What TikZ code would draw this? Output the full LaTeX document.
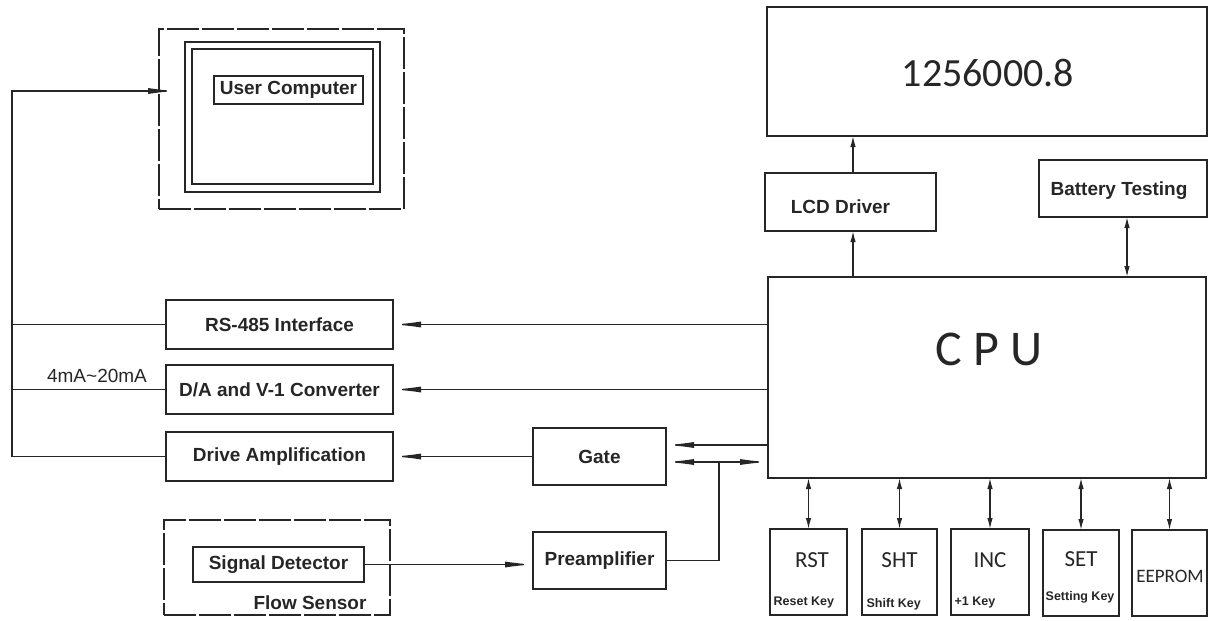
\documentclass[tikz,border=0pt]{standalone}
\usepackage{fontspec}
\setmainfont{Liberation Sans}
\newfontfamily\carl{Carlito}
\usetikzlibrary{arrows.meta}
\begin{document}
\begin{tikzpicture}[x=1pt,y=-1pt,
  line width=1.3pt, draw=black!85,
  box/.style={draw, inner sep=0pt, outer sep=0pt},
  dbox/.style={draw, inner sep=0pt, outer sep=0pt, dash pattern=on 32pt off 3pt},
  lbl/.style={inner sep=0pt, font=\fontsize{19}{21}\selectfont\bfseries, text=black!85},
  klbl/.style={inner sep=0pt, font=\carl\fontsize{23}{25}\selectfont, text=black!85},
  slbl/.style={inner sep=0pt, anchor=west, font=\fontsize{12.5}{14}\selectfont\bfseries, text=black!85},
  arr/.style={-{Latex[length=28pt,width=6pt]}},
  sarr/.style={-{Latex[length=11pt,width=5.5pt]}},
  dbl/.style={{Latex[length=11pt,width=5.5pt]}-{Latex[length=11pt,width=5.5pt]}}
]
\useasboundingbox (0,0) rectangle (1210,621);

% display and CPU side
\node[box, minimum width=440pt, minimum height=129pt] (disp) at (987,71.5) {};
\node[inner sep=0pt, font=\carl\fontsize{40}{44}\selectfont, text=black!85] (dispt) at (988,73) {1256000.8};
\node[box, minimum width=171pt, minimum height=58pt] (lcd) at (850.5,202) {};
\node[lbl] (lcdt) at (840.5,207) {LCD Driver};
\node[box, minimum width=168pt, minimum height=57pt] (bat) at (1123,188.5) {};
\node[lbl] (batt) at (1119,191) {Battery Testing};
\node[box, minimum width=438pt, minimum height=201pt] (cpu) at (987,377.5) {};
\node[inner sep=0pt, font=\carl\fontsize{50}{54}\selectfont, text=black!85] (cput) at (989,349) {C P U};

% keys
\node[box, minimum width=77pt, minimum height=86pt] (rst) at (808.5,572) {};
\node[box, minimum width=75pt, minimum height=86pt] (sht) at (899.5,572) {};
\node[box, minimum width=78pt, minimum height=86pt] (inc) at (990,572) {};
\node[box, minimum width=76pt, minimum height=86pt] (set) at (1081,573) {};
\node[box, minimum width=75pt, minimum height=86pt] (eep) at (1169.5,573) {};
\node[klbl] (rstt) at (812,560) {RST};
\node[klbl] (shtt) at (899.5,560) {SHT};
\node[klbl] (inct) at (990,560) {INC};
\node[klbl] (sett) at (1081,559) {SET};
\node[inner sep=0pt, font=\carl\fontsize{19}{21}\selectfont, text=black!85] (eept) at (1170,576) {EEPROM};
\node[slbl] (rsts) at (773,602) {Reset Key};
\node[slbl] (shts) at (866,604) {Shift Key};
\node[slbl] (incs) at (954,602) {+1 Key};
\node[slbl] (sets) at (1045,597) {Setting Key};

% left side
\node[dbox, minimum width=245pt, minimum height=180pt] (ucd) at (281.5,119) {};
\node[box, minimum width=195pt, minimum height=150pt] (uco) at (282.5,117) {};
\node[box, minimum width=181pt, minimum height=135pt] (uci) at (282.5,116.5) {};
\node[box, lbl, minimum width=149pt, minimum height=28pt] (ucl) at (288.5,90) {User Computer};

\node[box, lbl, minimum width=227pt, minimum height=49pt] (rs) at (279.5,324.5) {RS-485 Interface};
\node[box, lbl, minimum width=227pt, minimum height=49pt] (da) at (279.5,389.5) {D/A and V-1 Converter};
\node[box, lbl, minimum width=227pt, minimum height=49pt] (drv) at (279.5,456.5) {Drive Amplification};
\node[inner sep=0pt, font=\fontsize{19}{21}\selectfont, text=black!85] (ma) at (97,376) {4mA\textasciitilde20mA};

\node[box, lbl, minimum width=133pt, minimum height=57pt] (gate) at (599.5,456.5) {Gate};
\node[box, lbl, minimum width=133pt, minimum height=57pt] (pre) at (599.5,560.5) {Preamplifier};

\node[dbox, minimum width=226pt, minimum height=95pt] (flow) at (277,567.5) {};
\node[box, lbl, minimum width=171pt, minimum height=35pt] (sig) at (278.5,564.5) {Signal Detector};
\node[lbl] (flowt) at (310,603) {Flow Sensor};

% coordinates
\coordinate (b0) at (12,91);
\coordinate (uctip) at (176,91);
\coordinate (g1) at (666,445);
\coordinate (g2) at (666,462);
\coordinate (j) at (719,462);
\coordinate (lx) at (853,0);
\coordinate (bx) at (1127,0);

% connectors
\draw[arr] (drv.west) -| (b0) -- (uctip);
\draw (rs.west) -- (rs.west -| b0);
\draw (da.west) -- (da.west -| b0);
\draw[arr] (cpu.west |- rs.east) -- (rs.east);
\draw[arr] (cpu.west |- da.east) -- (da.east);
\draw[arr] (g1 -| cpu.west) -- (g1);
\draw[arr] (j) -- (g2);
\draw[arr] (j) -- (j -| cpu.west);
\draw (pre.east) -| (j);
\draw[arr] (gate.west) -- (drv.east);
\draw[arr] (sig.east) -- (pre.west |- sig.east);

\draw[sarr] (lx |- cpu.north) -- (lx |- lcd.south);
\draw[sarr] (lx |- lcd.north) -- (lx |- disp.south);
\draw[dbl] (bx |- cpu.north) -- (bx |- bat.south);

\draw[dbl] (rst.north) -- (rst.north |- cpu.south);
\draw[dbl] (sht.north) -- (sht.north |- cpu.south);
\draw[dbl] (inc.north) -- (inc.north |- cpu.south);
\draw[dbl] (set.north) -- (set.north |- cpu.south);
\draw[dbl] (eep.north) -- (eep.north |- cpu.south);
\end{tikzpicture}
\end{document}
